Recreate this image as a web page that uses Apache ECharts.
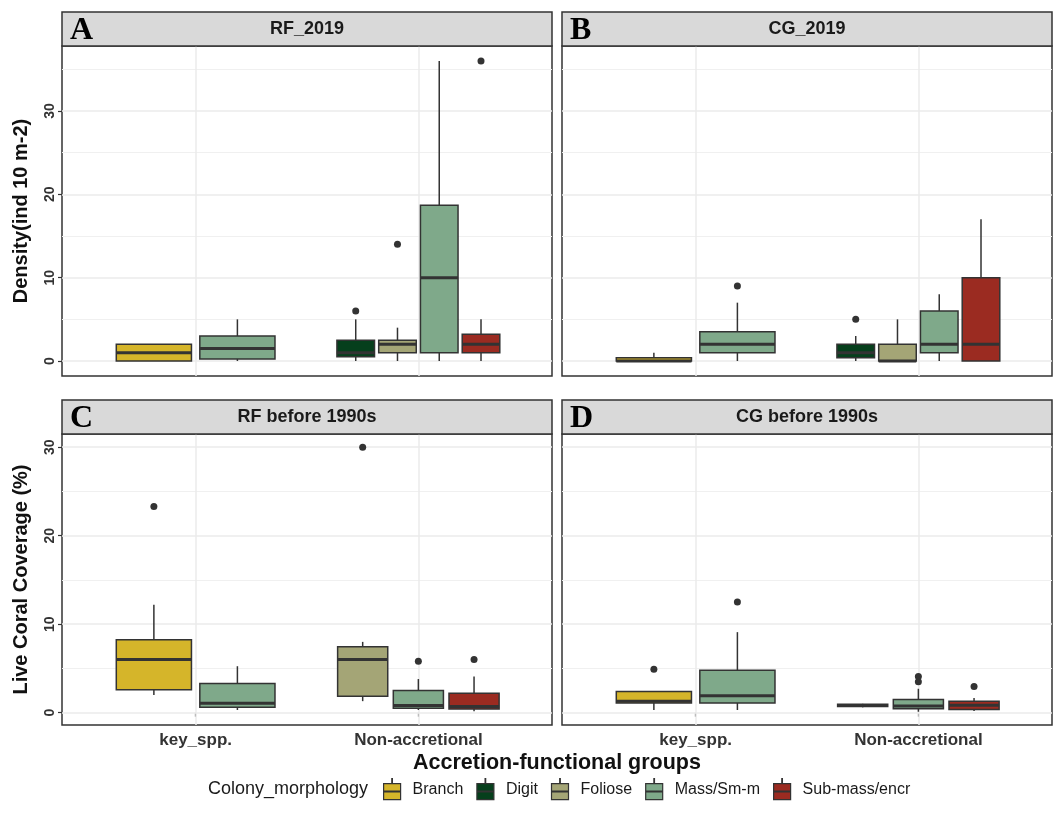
<!DOCTYPE html>
<html>
<head>
<meta charset="utf-8">
<script src="https://cdn.jsdelivr.net/npm/echarts@6/dist/echarts.min.js"></script>
<style>
html,body{margin:0;padding:0;background:#fff;}
#chart{width:1053px;height:826px;}
</style>
</head>
<body>
<div id="chart"></div>
<script>
// ---------------- data ----------------
const categories = ['key_spp.', 'Non-accretional'];
const morphologies = ['Branch', 'Digit', 'Foliose', 'Mass/Sm-m', 'Sub-mass/encr'];
const morphColors = ['#D5B52A', '#063F1C', '#A4A576', '#7FA98A', '#9B2B21'];
const panelTitles = ['RF_2019', 'CG_2019', 'RF before 1990s', 'CG before 1990s'];
const panelLetters = ['A', 'B', 'C', 'D'];
const yTitles = ['Density(ind 10 m-2)', 'Live Coral Coverage (%)'];
const xTitle = 'Accretion-functional groups';
const legendTitle = 'Colony_morphology';
const yTicks = [0, 10, 20, 30];
const yMinorTicks = [5, 15, 25, 35];

// box stats: [category, morphology, lowerWhisker, q1, median, q3, upperWhisker]
const statsA = [
  ['key_spp.', 'Branch', 0, 0, 1, 2, 2],
  ['key_spp.', 'Mass/Sm-m', 0, 0.25, 1.5, 3, 5],
  ['Non-accretional', 'Digit', 0, 0.5, 1, 2.5, 5],
  ['Non-accretional', 'Foliose', 0, 1, 2, 2.5, 4],
  ['Non-accretional', 'Mass/Sm-m', 0, 1, 10, 18.7, 36],
  ['Non-accretional', 'Sub-mass/encr', 0, 1, 2, 3.2, 5]
];
const outliersA = [
  ['Non-accretional', 'Digit', 6],
  ['Non-accretional', 'Foliose', 14],
  ['Non-accretional', 'Sub-mass/encr', 36]
];
const statsB = [
  ['key_spp.', 'Branch', 0, 0, 0, 0.4, 1],
  ['key_spp.', 'Mass/Sm-m', 0, 1, 2, 3.5, 7],
  ['Non-accretional', 'Digit', 0, 0.4, 1, 2, 3],
  ['Non-accretional', 'Foliose', 0, 0, 0, 2, 5],
  ['Non-accretional', 'Mass/Sm-m', 0, 1, 2, 6, 8],
  ['Non-accretional', 'Sub-mass/encr', 0, 0, 2, 10, 17]
];
const outliersB = [
  ['key_spp.', 'Mass/Sm-m', 9],
  ['Non-accretional', 'Digit', 5]
];
const statsC = [
  ['key_spp.', 'Branch', 2.0, 2.6, 6, 8.25, 12.2],
  ['key_spp.', 'Mass/Sm-m', 0.3, 0.6, 1.05, 3.3, 5.25],
  ['Non-accretional', 'Foliose', 1.3, 1.85, 6, 7.45, 8],
  ['Non-accretional', 'Mass/Sm-m', 0.3, 0.5, 0.8, 2.5, 3.8],
  ['Non-accretional', 'Sub-mass/encr', 0.15, 0.4, 0.7, 2.2, 4.1]
];
const outliersC = [
  ['key_spp.', 'Branch', 23.3],
  ['Non-accretional', 'Foliose', 30],
  ['Non-accretional', 'Mass/Sm-m', 5.8],
  ['Non-accretional', 'Sub-mass/encr', 6]
];
const statsD = [
  ['key_spp.', 'Branch', 0.3, 1.1, 1.3, 2.4, 2.4],
  ['key_spp.', 'Mass/Sm-m', 0.3, 1.1, 1.9, 4.8, 9.1],
  ['Non-accretional', 'Foliose', 0.6, 0.7, 0.8, 0.95, 1.0],
  ['Non-accretional', 'Mass/Sm-m', 0.1, 0.45, 0.75, 1.5, 2.7],
  ['Non-accretional', 'Sub-mass/encr', 0.2, 0.35, 0.85, 1.3, 1.65]
];
const outliersD = [
  ['key_spp.', 'Branch', 4.9],
  ['key_spp.', 'Mass/Sm-m', 12.5],
  ['Non-accretional', 'Mass/Sm-m', 3.5],
  ['Non-accretional', 'Mass/Sm-m', 4.1],
  ['Non-accretional', 'Sub-mass/encr', 2.95]
];

const panelStats = [statsA, statsB, statsC, statsD];
const panelOutliers = [outliersA, outliersB, outliersC, outliersD];

// ---------------- layout ----------------
const FONT = '"Liberation Sans", Arial, sans-serif';
const SERIF = '"Liberation Serif", "Times New Roman", serif';
const gridBoxes = [
  { left: 62, top: 46, width: 490, height: 330 },
  { left: 562, top: 46, width: 490, height: 330 },
  { left: 62, top: 434, width: 490, height: 291 },
  { left: 562, top: 434, width: 490, height: 291 }
];
const stripH = 34;
const DODGE = 0.75;

// dodge positions (ggplot-style)
function boxX(stats, cat, morph) {
  const group = stats.filter(s => s[0] === cat);
  const n = group.length;
  const slot = DODGE / n;
  const i = group.findIndex(s => s[1] === morph);
  return { x: categories.indexOf(cat) + 1 - DODGE / 2 + slot * (i + 0.5), w: slot * 0.9 };
}

// shared y range per row (5% expansion)
function rowRange(r) {
  let mx = -Infinity, mn = Infinity;
  [0, 1].forEach(c => {
    const p = r * 2 + c;
    panelStats[p].forEach(s => { mx = Math.max(mx, s[6]); mn = Math.min(mn, s[2]); });
    panelOutliers[p].forEach(o => { mx = Math.max(mx, o[2]); mn = Math.min(mn, o[2]); });
  });
  const pad = (mx - mn) * 0.05;
  return [mn - pad, mx + pad];
}
const rowRanges = [rowRange(0), rowRange(1)];

function renderBox(params, api) {
  const x = api.value(0), w = api.value(1);
  const lo = api.coord([x, api.value(2)]);
  const q1 = api.coord([x, api.value(3)]);
  const md = api.coord([x, api.value(4)]);
  const q3 = api.coord([x, api.value(5)]);
  const hi = api.coord([x, api.value(6)]);
  const half = api.size([w, 0])[0] / 2;
  const color = api.visual('color');
  const lw = 1.5;
  return {
    type: 'group',
    children: [
      { type: 'line', shape: { x1: lo[0], y1: lo[1], x2: q1[0], y2: q1[1] }, style: { stroke: '#333', lineWidth: lw } },
      { type: 'line', shape: { x1: q3[0], y1: q3[1], x2: hi[0], y2: hi[1] }, style: { stroke: '#333', lineWidth: lw } },
      { type: 'rect', shape: { x: q1[0] - half, y: q3[1], width: half * 2, height: Math.max(q1[1] - q3[1], 0.5) }, style: { fill: color, stroke: '#333', lineWidth: lw } },
      { type: 'line', shape: { x1: md[0] - half, y1: md[1], x2: md[0] + half, y2: md[1] }, style: { stroke: '#333', lineWidth: 3 } }
    ]
  };
}

const grids = [], xAxes = [], yAxes = [], series = [], graphics = [];
for (let p = 0; p < 4; p++) {
  const row = Math.floor(p / 2), col = p % 2;
  const gb = gridBoxes[p];
  const bottom = row === 1, left = col === 0;
  grids.push(Object.assign({ show: true, borderColor: '#333', borderWidth: 1.5, backgroundColor: '#fff', containLabel: false }, gb));
  xAxes.push({
    gridIndex: p, type: 'value', min: 0.4, max: 2.6,
    axisLine: { show: false }, splitLine: { show: false },
    axisTick: { show: bottom, customValues: [1, 2], length: 4, lineStyle: { color: '#333', width: 1.2 } },
    axisLabel: { show: bottom, customValues: [1, 2], margin: 7, formatter: v => categories[Math.round(v) - 1] || '',
      fontFamily: FONT, fontWeight: 'bold', fontSize: 17, color: '#333' }
  });
  const rr = rowRanges[row];
  yAxes.push({
    gridIndex: p, type: 'value', min: rr[0], max: rr[1],
    axisLine: { show: false }, splitLine: { show: false },
    axisTick: { show: left, customValues: yTicks, length: 4, lineStyle: { color: '#333', width: 1.2 } },
    axisLabel: { show: left, customValues: yTicks, rotate: 90, margin: 5,
      fontFamily: FONT, fontWeight: 'bold', fontSize: 14, color: '#333' },
    name: left ? yTitles[row] : '', nameLocation: 'middle', nameGap: 31, nameRotate: 90,
    nameTextStyle: { fontFamily: FONT, fontWeight: 'bold', fontSize: 20, color: '#111' }
  });

  // gridlines
  const majors = yTicks.filter(v => v >= rr[0] && v <= rr[1]);
  const minors = yMinorTicks.filter(v => v >= rr[0] && v <= rr[1]);
  series.push({
    type: 'line', xAxisIndex: p, yAxisIndex: p, data: [], z: 1, silent: true,
    markLine: {
      z: 1, silent: true, symbol: ['none', 'none'], label: { show: false }, animation: false,
      data: [
        ...minors.map(v => ({ yAxis: v, lineStyle: { color: '#F0F0F0', width: 1, type: 'solid' } })),
        ...majors.map(v => ({ yAxis: v, lineStyle: { color: '#EBEBEB', width: 1.5, type: 'solid' } })),
        ...[1, 2].map(v => ({ xAxis: v, lineStyle: { color: '#EBEBEB', width: 1.5, type: 'solid' } }))
      ]
    }
  });

  // boxes, one custom series per morphology
  const stats = panelStats[p];
  morphologies.forEach((m, mi) => {
    const items = stats.filter(s => s[1] === m).map(s => {
      const pos = boxX(stats, s[0], s[1]);
      return [pos.x, pos.w, s[2], s[3], s[4], s[5], s[6]];
    });
    if (!items.length) return;
    series.push({
      type: 'custom', name: m, xAxisIndex: p, yAxisIndex: p, z: 3,
      itemStyle: { color: morphColors[mi] },
      renderItem: renderBox, data: items, clip: false
    });
  });

  // outliers
  series.push({
    type: 'scatter', xAxisIndex: p, yAxisIndex: p, z: 4, symbolSize: 7, silent: true,
    itemStyle: { color: '#333', opacity: 1 },
    data: panelOutliers[p].map(o => [boxX(stats, o[0], o[1]).x, o[2]])
  });

  // strip
  graphics.push({ type: 'rect', shape: { x: gb.left, y: gb.top - stripH, width: gb.width, height: stripH },
    style: { fill: '#D9D9D9', stroke: '#333', lineWidth: 1.5 }, z: 10 });
  graphics.push({ type: 'text', z: 11, style: { text: panelTitles[p], x: gb.left + gb.width / 2, y: gb.top - stripH / 2,
    align: 'center', verticalAlign: 'middle', font: 'bold 18px ' + FONT, fill: '#1a1a1a' } });
  graphics.push({ type: 'text', z: 11, style: { text: panelLetters[p], x: gb.left + 8, y: gb.top - stripH / 2 + 2,
    align: 'left', verticalAlign: 'middle', font: 'bold 32px ' + SERIF, fill: '#000' } });
}

graphics.push({ type: 'text', style: { text: xTitle, x: (gridBoxes[2].left + gridBoxes[3].left + gridBoxes[3].width) / 2, y: 763,
  align: 'center', verticalAlign: 'middle', font: 'bold 21.5px ' + FONT, fill: '#111' } });
graphics.push({ type: 'text', style: { text: legendTitle, x: 208, y: 789,
  align: 'left', verticalAlign: 'middle', font: '18px ' + FONT, fill: '#1a1a1a' } });

const chart = echarts.init(document.getElementById('chart'), null, { renderer: 'canvas' });
chart.setOption({
  animation: false,
  backgroundColor: '#fff',
  grid: grids, xAxis: xAxes, yAxis: yAxes, series: series,
  graphic: graphics,
  legend: {
    left: 378, top: 773, itemWidth: 17, itemHeight: 21, itemGap: 13, selectedMode: false,
    icon: 'path://M0,5 H17 V21 H0 Z M8.2,0 H8.8 V5 H8.2 Z M0,12.6 H17 V13.4 H0 Z',
    itemStyle: { borderColor: '#333', borderWidth: 1.2 },
    textStyle: { fontFamily: FONT, fontSize: 16, color: '#1a1a1a', padding: [0, 0, 0, 7] },
    data: morphologies
  }
});
</script>
</body>
</html>
